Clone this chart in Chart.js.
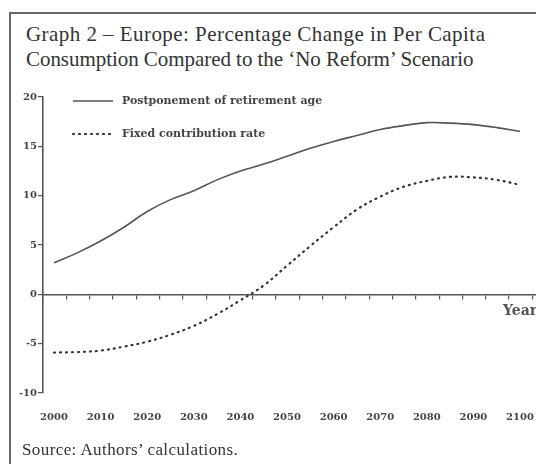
<!DOCTYPE html>
<html>
<head>
<meta charset="utf-8">
<script src="https://cdn.jsdelivr.net/npm/chart.js@4.4.0/dist/chart.umd.min.js"></script>
<style>
  html, body { margin: 0; padding: 0; background: #fff; }
  #page { position: relative; width: 536px; height: 464px; overflow: hidden; }
  #frame { position: absolute; left: 9px; top: 12px; width: 540px; height: 470px;
           border-left: 2px solid #666; border-top: 2px solid #666; }
  #title { position: absolute; left: 26px; top: 22px; font-family: "Liberation Serif", serif;
           font-size: 21px; line-height: 25px; color: #333; white-space: nowrap; }
  #title .l1 { letter-spacing: 0.45px; }
  #title .l2 { letter-spacing: -0.05px; }
  #source { position: absolute; left: 22px; top: 442px; font-family: "Liberation Serif", serif;
            font-size: 17px; line-height: 16px; letter-spacing: 0.4px; color: #333; white-space: nowrap; }
  #chart { position: absolute; left: 0; top: 0; }
</style>
</head>
<body>
<div id="page">
  <div id="frame"></div>
  <div id="title"><span class="l1">Graph 2 – Europe: Percentage Change in Per Capita</span><br><span class="l2">Consumption Compared to the ‘No Reform’ Scenario</span></div>
  <canvas id="chart" width="536" height="464"></canvas>
  <div id="source">Source: Authors’ calculations.</div>
</div>
<script>
// values, every 5 years
var years = [2000, 2005, 2010, 2015, 2020, 2025, 2030, 2035, 2040, 2045, 2050,
             2055, 2060, 2065, 2070, 2075, 2080, 2085, 2090, 2095, 2100];
var retirementAge = [3.2, 4.2, 5.4, 6.8, 8.4, 9.6, 10.5, 11.6, 12.5, 13.2, 14.0,
                     14.8, 15.5, 16.1, 16.7, 17.1, 17.4, 17.35, 17.2, 16.9, 16.5];
var fixedRate = [-5.9, -5.85, -5.7, -5.3, -4.8, -4.1, -3.2, -2.0, -0.6, 0.9, 2.9,
                 4.9, 6.8, 8.6, 9.9, 10.9, 11.5, 11.9, 11.85, 11.6, 11.1];
var yearTicks = [2000, 2010, 2020, 2030, 2040, 2050, 2060, 2070, 2080, 2090, 2100];
var valueTicks = [-10, -5, 0, 5, 10, 15, 20];

var ink = '#555';
var xMin = 1997.64, xMax = 2103.43;

function toPoints(vals) {
    return years.map(function (yr, i) { return { x: yr, y: vals[i] }; });
}

// legend + "Year" label drawn inside the plot like the original
var paperLegend = {
    id: 'paperLegend',
    afterDraw: function (chart) {
        var c = chart.ctx;
        c.save();
        chart.data.datasets.forEach(function (ds, i) {
            var y = 101 + i * 33;
            c.strokeStyle = ds.borderColor;
            c.lineWidth = ds.borderWidth;
            c.lineCap = ds.borderCapStyle || 'butt';
            c.setLineDash(ds.borderDash || []);
            c.beginPath();
            c.moveTo(73, y);
            c.lineTo(113, y);
            c.stroke();
            c.setLineDash([]);
            c.fillStyle = '#444';
            c.font = 'bold 11px "DejaVu Serif"';
            c.textBaseline = 'middle';
            c.fillText(ds.label, 122, y);
        });
        c.font = 'bold 14px "DejaVu Serif"';
        c.fillStyle = ink;
        c.textBaseline = 'alphabetic';
        c.fillText('Year', 503, 315);
        c.restore();
    }
};

var ctx = document.getElementById('chart').getContext('2d');

var chart = new Chart(ctx, {
    type: 'line',
    data: {
        datasets: [{
            label: 'Postponement of retirement age',
            data: toPoints(retirementAge),
            borderColor: '#555',
            borderWidth: 1.6,
            tension: 0.4,
            pointRadius: 0
        }, {
            label: 'Fixed contribution rate',
            data: toPoints(fixedRate),
            borderColor: '#333',
            borderWidth: 2.2,
            borderDash: [1, 5],
            borderCapStyle: 'round',
            tension: 0.4,
            pointRadius: 0
        }]
    },
    options: {
        responsive: false,
        animation: false,
        layout: { padding: { left: 0, right: 0, top: 97, bottom: 0 } },
        plugins: {
            legend: { display: false },
            tooltip: { enabled: false }
        },
        scales: {
            x: {
                type: 'linear',
                position: 'bottom',
                min: xMin,
                max: xMax,
                afterBuildTicks: function (scale) {
                    scale.ticks = yearTicks.map(function (v) { return { value: v }; });
                },
                afterFit: function (scale) {
                    scale.height = 71;
                    scale.paddingLeft = 0;
                    scale.paddingRight = 0;
                },
                grid: { display: false },
                border: { display: false },
                ticks: {
                    padding: 10,
                    maxRotation: 0,
                    autoSkip: false,
                    color: '#444',
                    font: { family: 'DejaVu Serif', size: 10, weight: 'bold' },
                    callback: function (v) { return String(v); }
                }
            },
            // zero line with its own 5-year tick marks
            x2: {
                type: 'linear',
                position: { y: 0 },
                min: 0,
                max: xMax - xMin,
                afterFit: function (scale) {
                    scale.paddingLeft = 0;
                    scale.paddingRight = 0;
                },
                grid: { drawOnChartArea: false, drawTicks: true, tickLength: 4, color: ink, lineWidth: 1.2 },
                border: { display: true, color: ink, width: 1.6 },
                ticks: { display: false, stepSize: 5, includeBounds: false }
            },
            y: {
                min: -10,
                max: 20,
                afterBuildTicks: function (scale) {
                    scale.ticks = valueTicks.map(function (v) { return { value: v }; });
                },
                afterFit: function (scale) { scale.width = 43; },
                grid: { drawOnChartArea: false, drawTicks: true, tickLength: 5, color: ink, lineWidth: 1.2 },
                border: { display: true, color: ink, width: 1.6 },
                ticks: {
                    padding: 1,
                    color: '#444',
                    font: { family: 'DejaVu Serif', size: 10, weight: 'bold' }
                }
            }
        }
    },
    plugins: [paperLegend]
});
</script>
</body>
</html>
